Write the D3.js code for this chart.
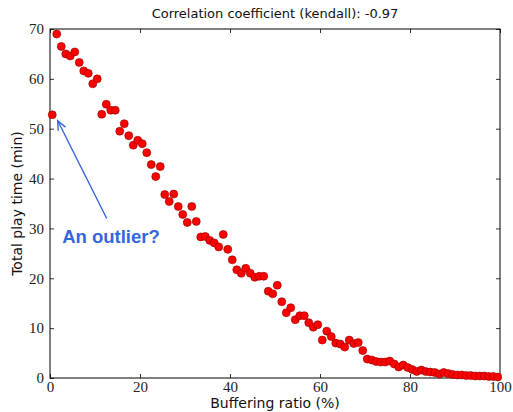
<!DOCTYPE html>
<html>
<head>
<meta charset="utf-8">
<script src="https://cdn.jsdelivr.net/npm/d3@7"></script>
<style>
  html, body { margin: 0; padding: 0; background: #fff; }
  svg { display: block; }
</style>
</head>
<body>
<svg id="chart" width="513" height="412"></svg>
<script>
const titleText = "Correlation coefficient (kendall): -0.97";
const xLabel = "Buffering ratio (%)";
const yLabel = "Total play time (min)";
const xTicks = [0, 20, 40, 60, 80, 100];
const yTicks = [0, 10, 20, 30, 40, 50, 60, 70];

const bufferingRatio = [
  0.5, 1.5, 2.5, 3.5, 4.5, 5.5, 6.5, 7.5, 8.5, 9.5,
  10.5, 11.5, 12.5, 13.5, 14.5, 15.5, 16.5, 17.5, 18.5, 19.5,
  20.5, 21.5, 22.5, 23.5, 24.5, 25.5, 26.5, 27.5, 28.5, 29.5,
  30.5, 31.5, 32.5, 33.5, 34.5, 35.5, 36.5, 37.5, 38.5, 39.5,
  40.5, 41.5, 42.5, 43.5, 44.5, 45.5, 46.5, 47.5, 48.5, 49.5,
  50.5, 51.5, 52.5, 53.5, 54.5, 55.5, 56.5, 57.5, 58.5, 59.5,
  60.5, 61.5, 62.5, 63.5, 64.5, 65.5, 66.5, 67.5, 68.5, 69.5,
  70.5, 71.5, 72.5, 73.5, 74.5, 75.5, 76.5, 77.5, 78.5, 79.5,
  80.5, 81.5, 82.5, 83.5, 84.5, 85.5, 86.5, 87.5, 88.5, 89.5,
  90.5, 91.5, 92.5, 93.5, 94.5, 95.5, 96.5, 97.5, 98.5, 99.5
];
const playTime = [
  52.8, 69.0, 66.5, 65.0, 64.6, 65.4, 63.3, 61.6, 61.1, 59.0,
  60.0, 52.9, 54.9, 53.7, 53.7, 49.5, 51.0, 48.6, 46.7, 47.7,
  47.0, 45.2, 42.8, 40.4, 42.4, 36.8, 35.4, 36.9, 34.4, 32.8,
  31.2, 34.4, 31.4, 28.3, 28.4, 27.6, 27.1, 26.3, 28.8, 25.8,
  23.7, 21.7, 21.0, 22.0, 21.0, 20.2, 20.4, 20.4, 17.4, 16.9,
  18.6, 15.3, 13.1, 14.1, 11.7, 12.5, 12.5, 11.1, 10.2, 10.7,
  7.6, 9.4, 8.3, 7.0, 6.8, 6.2, 7.6, 6.9, 7.1, 5.5,
  3.8, 3.6, 3.3, 3.2, 3.2, 3.4, 2.8, 2.2, 2.6, 2.1,
  1.7, 1.3, 1.6, 1.3, 1.2, 1.1, 0.8, 1.1, 0.9, 0.7,
  0.6, 0.6, 0.5, 0.5, 0.4, 0.4, 0.4, 0.3, 0.3, 0.2
];
const annotationText = "An outlier?";
const outlierIndex = 0;

const svg = d3.select("#chart");
const margin = { left: 50, right: 13, top: 29, bottom: 34 };
const W = 513, H = 412;
const x = d3.scaleLinear().domain([0, 100]).range([margin.left, W - margin.right]);
const y = d3.scaleLinear().domain([0, 70]).range([H - margin.bottom, margin.top]);

const serif = "'Liberation Serif', 'DejaVu Serif', serif";
const sans = "'DejaVu Sans', 'Liberation Sans', sans-serif";

// ticks (inward, all four sides)
const tickLen = 4;
const gAxes = svg.append("g");
function styleAxis(g) {
  g.select(".domain").remove();
  g.selectAll(".tick line").attr("stroke", "#000").attr("stroke-width", 0.8);
  g.selectAll(".tick text").attr("font-family", serif).attr("font-size", 15).attr("fill", "#222");
}
gAxes.append("g").attr("transform", `translate(0,${y(0)})`)
  .call(d3.axisBottom(x).tickValues(xTicks).tickSize(-tickLen).tickPadding(3).tickFormat(d3.format("d")))
  .call(styleAxis);
gAxes.append("g").attr("transform", `translate(0,${y(70)})`)
  .call(d3.axisTop(x).tickValues(xTicks).tickSize(-tickLen).tickFormat(""))
  .call(styleAxis);
gAxes.append("g").attr("transform", `translate(${x(0)},0)`)
  .call(d3.axisLeft(y).tickValues(yTicks).tickSize(-tickLen).tickPadding(6).tickFormat(d3.format("d")))
  .call(styleAxis);
gAxes.append("g").attr("transform", `translate(${x(100)},0)`)
  .call(d3.axisRight(y).tickValues(yTicks).tickSize(-tickLen).tickFormat(""))
  .call(styleAxis);

// frame
svg.append("rect")
  .attr("x", x(0)).attr("y", y(70))
  .attr("width", x(100) - x(0)).attr("height", y(0) - y(70))
  .attr("fill", "none").attr("stroke", "#000").attr("stroke-width", 1);

// points
svg.append("g").selectAll("circle")
  .data(bufferingRatio.map((d, i) => [d, playTime[i]]))
  .join("circle")
  .attr("cx", d => x(d[0]))
  .attr("cy", d => y(d[1]))
  .attr("r", 4)
  .attr("fill", "#ff0000")
  .attr("stroke", "#8a0000")
  .attr("stroke-width", 0.6);

// title
svg.append("text")
  .attr("x", (x(0) + x(100)) / 2).attr("y", 18)
  .attr("text-anchor", "middle")
  .attr("font-family", sans).attr("font-size", 13).attr("fill", "#111")
  .text(titleText);

// axis labels
svg.append("text")
  .attr("x", (x(0) + x(100)) / 2).attr("y", 408)
  .attr("text-anchor", "middle")
  .attr("font-family", sans).attr("font-size", 14).attr("fill", "#111")
  .text(xLabel);
svg.append("text")
  .attr("transform", `translate(22,${(y(0) + y(70)) / 2}) rotate(-90)`)
  .attr("text-anchor", "middle")
  .attr("font-family", sans).attr("font-size", 14).attr("fill", "#111")
  .text(yLabel);

// annotation
const blue = "#3467dc";
const tipX = x(bufferingRatio[outlierIndex]) + 5.5;
const tipY = y(playTime[outlierIndex]) + 6;
const tailX = x(12.6), tailY = y(32);
svg.append("line")
  .attr("x1", tailX).attr("y1", tailY).attr("x2", tipX).attr("y2", tipY)
  .attr("stroke", blue).attr("stroke-width", 1.4);
const ang = Math.atan2(tailY - tipY, tailX - tipX);
const headLen = 10, spread = 0.42;
svg.append("path")
  .attr("d", `M${tipX + headLen * Math.cos(ang + spread)},${tipY + headLen * Math.sin(ang + spread)} L${tipX},${tipY} L${tipX + headLen * Math.cos(ang - spread)},${tipY + headLen * Math.sin(ang - spread)}`)
  .attr("fill", "none").attr("stroke", blue).attr("stroke-width", 1.4);
svg.append("text")
  .attr("x", x(2.7)).attr("y", y(27))
  .attr("font-family", "'Liberation Sans', Arial, sans-serif").attr("font-weight", "bold")
  .attr("font-size", 18.5).attr("fill", blue)
  .text(annotationText);
</script>
</body>
</html>
